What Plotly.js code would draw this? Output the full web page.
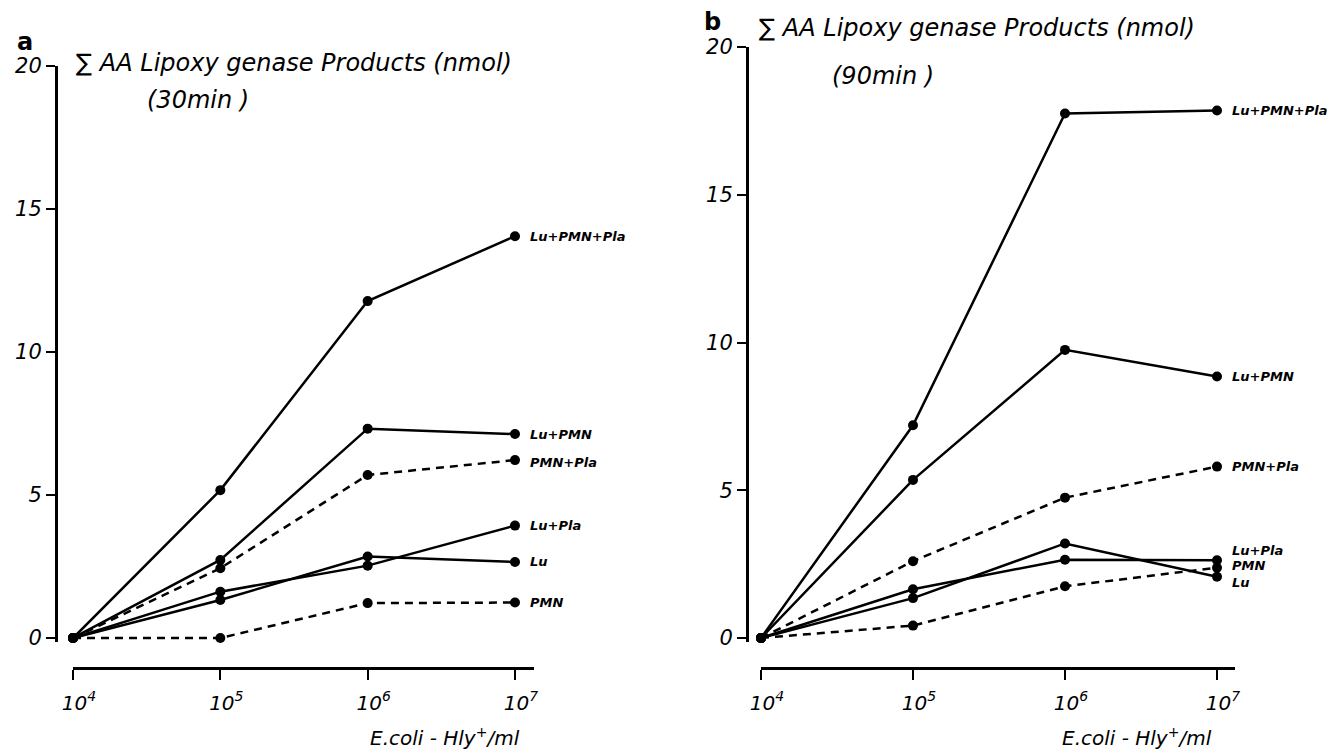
<!DOCTYPE html>
<html>
<head>
<meta charset="utf-8">
<script src="https://cdn.plot.ly/plotly-3.0.1.min.js"></script>
<style>
  html, body { margin: 0; padding: 0; background: #fff; }
  #chart { width: 1338px; height: 750px; }
</style>
</head>
<body>
<div id="chart"></div>
<script>
// ---------- data ----------
const concentrations = [1e4, 1e5, 1e6, 1e7];
const xTickText = ['10<sup>4</sup>', '10<sup>5</sup>', '10<sup>6</sup>', '10<sup>7</sup>'];
const yTickVals = [0, 5, 10, 15, 20];
const seriesNames = ['Lu+PMN+Pla', 'Lu+PMN', 'PMN+Pla', 'Lu+Pla', 'Lu', 'PMN'];
const seriesDashed = [false, false, true, false, false, true];

// panel a : 30 min
const a_LuPMNPla = [0, 5.17, 11.78, 14.05];
const a_LuPMN    = [0, 2.73, 7.32, 7.13];
const a_PMNPla   = [0, 2.44, 5.70, 6.22];
const a_LuPla    = [0, 1.62, 2.53, 3.93];
const a_Lu       = [0, 1.33, 2.85, 2.66];
const a_PMN      = [0, 0.00, 1.22, 1.24];

// panel b : 90 min
const b_LuPMNPla = [0, 7.20, 17.75, 17.85];
const b_LuPMN    = [0, 5.35, 9.75, 8.85];
const b_PMNPla   = [0, 2.60, 4.75, 5.80];
const b_LuPla    = [0, 1.65, 2.65, 2.63];
const b_Lu       = [0, 1.35, 3.20, 2.07];
const b_PMN      = [0, 0.42, 1.75, 2.38];

const panelA = [a_LuPMNPla, a_LuPMN, a_PMNPla, a_LuPla, a_Lu, a_PMN];
const panelB = [b_LuPMNPla, b_LuPMN, b_PMNPla, b_LuPla, b_Lu, b_PMN];

// ---------- geometry helpers (pixels -> paper) ----------
const W = 1338, H = 750;
const px = v => v / W;
const py = v => 1 - v / H;

const FONT = 'DejaVu Sans, Liberation Sans, sans-serif';
const INK = '#000';

function makeTraces(data, xa, ya) {
  return data.map((vals, i) => ({
    type: 'scatter',
    mode: 'lines+markers',
    x: concentrations,
    y: vals,
    xaxis: xa, yaxis: ya,
    name: seriesNames[i],
    cliponaxis: false,
    line: { color: INK, width: 2.5, dash: seriesDashed[i] ? '8px,6px' : 'solid' },
    marker: { color: INK, size: 10 },
    hoverinfo: 'x+y+name'
  }));
}

const traces = [...makeTraces(panelA, 'x', 'y'), ...makeTraces(panelB, 'x2', 'y2')];

function xAxis(x0, x1, decadePx) {
  return {
    type: 'log',
    domain: [px(x0), px(x1)],
    range: [4, 4 + (x1 - x0) / decadePx],
    anchor: 'free',
    position: py(668),
    showline: true, linecolor: INK, linewidth: 2.5,
    ticks: 'outside', ticklen: 10, tickwidth: 2, tickcolor: INK,
    tickvals: concentrations, ticktext: xTickText,
    tickfont: { family: FONT, size: 20, color: INK, style: 'italic' },
    ticklabelshift: 6,
    ticklabelstandoff: 6,
    showgrid: false, zeroline: false, fixedrange: true
  };
}

function yAxis(yZeroPx, yTopPx, axisXPx, yMin) {
  const unit = (yZeroPx - yTopPx) / 20;
  const bottom = yZeroPx + (-yMin) * unit;
  return {
    domain: [py(bottom), py(yTopPx)],
    range: [yMin, 20],
    anchor: 'free',
    position: px(axisXPx),
    showline: true, linecolor: INK, linewidth: 2.5,
    ticks: 'outside', ticklen: 9, tickwidth: 2, tickcolor: INK,
    tickvals: yTickVals,
    tickfont: { family: FONT, size: 21, color: INK, style: 'italic' },
    showgrid: false, zeroline: false, fixedrange: true
  };
}

const labelFont = { family: FONT, size: 13, color: INK, style: 'italic', weight: 'bold' };
const titleFont = { family: FONT, size: 24, color: INK, style: 'italic' };

function seriesLabels(data, xref, yref, yShifts) {
  return data.map((vals, i) => ({
    xref: xref, yref: yref,
    x: Math.log10(concentrations[3]), y: vals[3],
    xshift: 13, yshift: yShifts[i],
    xanchor: 'left', yanchor: 'middle',
    text: seriesNames[i], showarrow: false, font: labelFont
  }));
}

// label offsets (px) in series order: Lu+PMN+Pla, Lu+PMN, PMN+Pla, Lu+Pla, Lu, PMN
const annotations = [
  ...seriesLabels(panelA, 'x', 'y', [0, 0, -2, 0, 0, 0]),
  ...seriesLabels(panelB, 'x2', 'y2', [0, 0, 0, 10, -6, 2]),
  // panel letters
  { xref: 'paper', yref: 'paper', x: px(25), y: py(42), xanchor: 'center', yanchor: 'middle',
    text: 'a', showarrow: false, font: { family: FONT, size: 24, color: INK, weight: 'bold' } },
  { xref: 'paper', yref: 'paper', x: px(713), y: py(22), xanchor: 'center', yanchor: 'middle',
    text: 'b', showarrow: false, font: { family: FONT, size: 24, color: INK, weight: 'bold' } },
  // panel titles
  { xref: 'paper', yref: 'paper', x: px(74), y: py(63), xanchor: 'left', yanchor: 'middle',
    text: '∑ AA Lipoxy genase Products (nmol)', showarrow: false, font: titleFont },
  { xref: 'paper', yref: 'paper', x: px(145), y: py(100), xanchor: 'left', yanchor: 'middle',
    text: '(30min )', showarrow: false, font: titleFont },
  { xref: 'paper', yref: 'paper', x: px(757), y: py(28), xanchor: 'left', yanchor: 'middle',
    text: '∑ AA Lipoxy genase Products (nmol)', showarrow: false, font: titleFont },
  { xref: 'paper', yref: 'paper', x: px(830), y: py(76), xanchor: 'left', yanchor: 'middle',
    text: '(90min )', showarrow: false, font: titleFont },
  // x axis titles
  { xref: 'paper', yref: 'paper', x: px(368), y: py(737), xanchor: 'left', yanchor: 'middle',
    text: 'E.coli - Hly<sup>+</sup>/ml', showarrow: false,
    font: { family: FONT, size: 20, color: INK, style: 'italic' } },
  { xref: 'paper', yref: 'paper', x: px(1060), y: py(737), xanchor: 'left', yanchor: 'middle',
    text: 'E.coli - Hly<sup>+</sup>/ml', showarrow: false,
    font: { family: FONT, size: 20, color: INK, style: 'italic' } }
];

const layout = {
  width: W, height: H,
  margin: { l: 0, r: 0, t: 0, b: 0, pad: 0 },
  paper_bgcolor: '#fff', plot_bgcolor: 'rgba(0,0,0,0)',
  showlegend: false,
  font: { family: FONT, color: INK },
  xaxis: xAxis(73, 534, 147.33),
  yaxis: yAxis(638, 66, 56, -0.15),
  xaxis2: xAxis(761, 1235, 152),
  yaxis2: yAxis(638, 47, 747, -0.15),
  annotations: annotations
};

Plotly.newPlot('chart', traces, layout, { displayModeBar: false, staticPlot: true });
</script>
</body>
</html>
